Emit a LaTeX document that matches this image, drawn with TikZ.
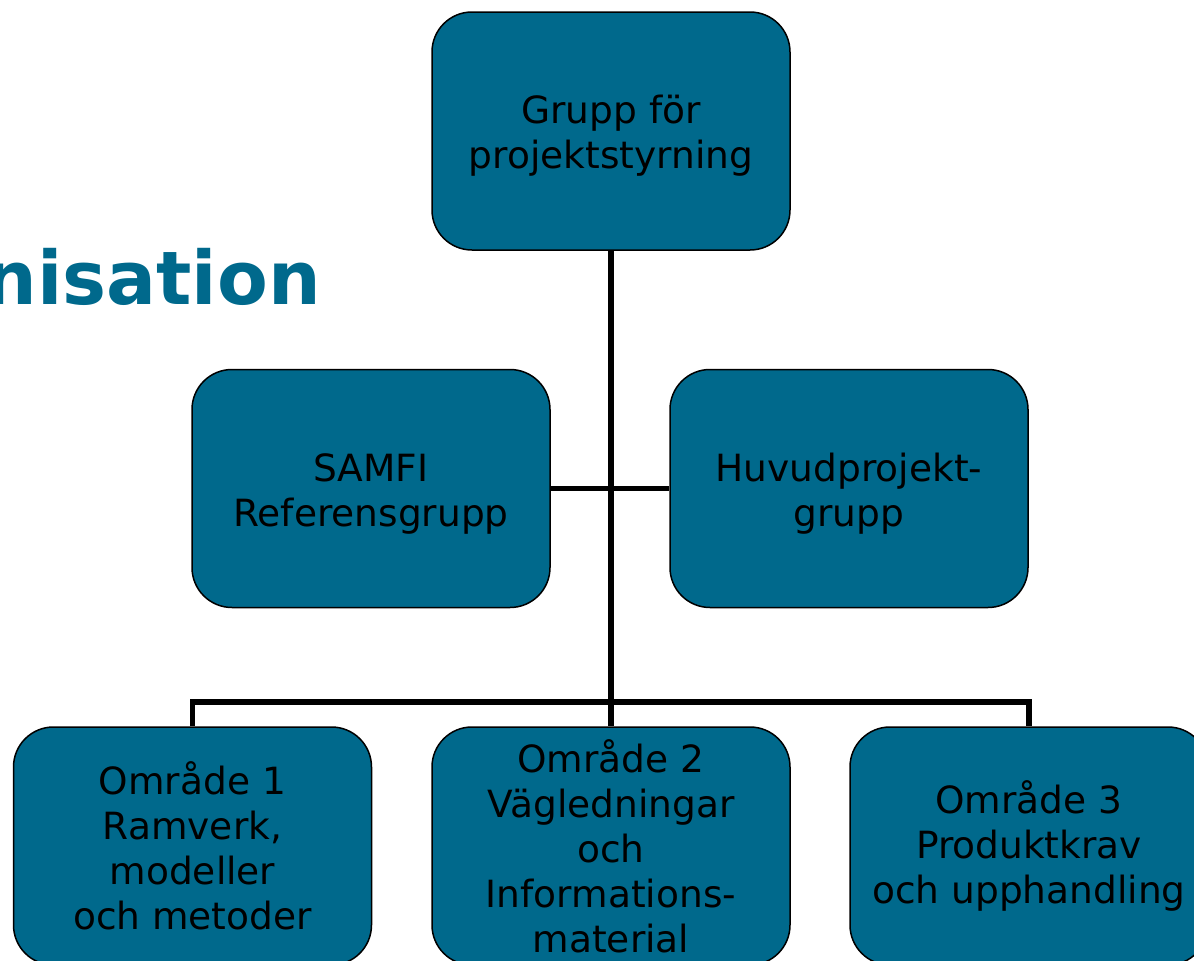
\documentclass[tikz,border=0pt]{standalone}
\usepackage{fontspec}
\setmainfont{DejaVu Sans}
\definecolor{boxteal}{RGB}{0,105,140}
\newcommand\mystrut{\rule{0pt}{38pt}}
\begin{document}
\begin{tikzpicture}[x=1pt,y=-1pt,
  orgbox/.style={draw=black, line width=1.5pt, fill=boxteal, rounded corners=40pt,
    minimum width=358pt, minimum height=238pt, inner sep=0pt, align=center,
    font=\fontsize{37.5}{45}\selectfont, text=black},
  conn/.style={draw=black, line width=5.5pt, line join=miter}]
\useasboundingbox (0,0) rectangle (1194,961);
\node[anchor=base east, text=boxteal, font=\fontsize{74}{80}\selectfont\bfseries, inner sep=0pt] (title) at (321,304) {nisation};
\node[orgbox] (top) at (611,131) {\mystrut Grupp för\\projektstyrning};
\node[orgbox] (samfi) at (371,488.5) {\mystrut SAMFI\\Referensgrupp};
\node[orgbox] (huvud) at (849,488.5) {\mystrut Huvudprojekt-\\grupp};
\node[orgbox] (o1) at (192.5,846) {Område 1\\Ramverk,\\modeller\\och metoder};
\node[orgbox] (o2) at (611,846) {Område 2\\Vägledningar\\och\\Informations-\\material};
\node[orgbox] (o3) at (1029,846) {Område 3\\Produktkrav\\och upphandling};
\coordinate (bus) at (611,702);
\draw[conn] (samfi.east) -- (huvud.west);
\draw[conn] (top.south) -- (bus);
\draw[conn] (bus) -- (o2.north);
\draw[conn] (o1.north) -- (o1.north |- bus) -- (o3.north |- bus) -- (o3.north);
\end{tikzpicture}
\end{document}
